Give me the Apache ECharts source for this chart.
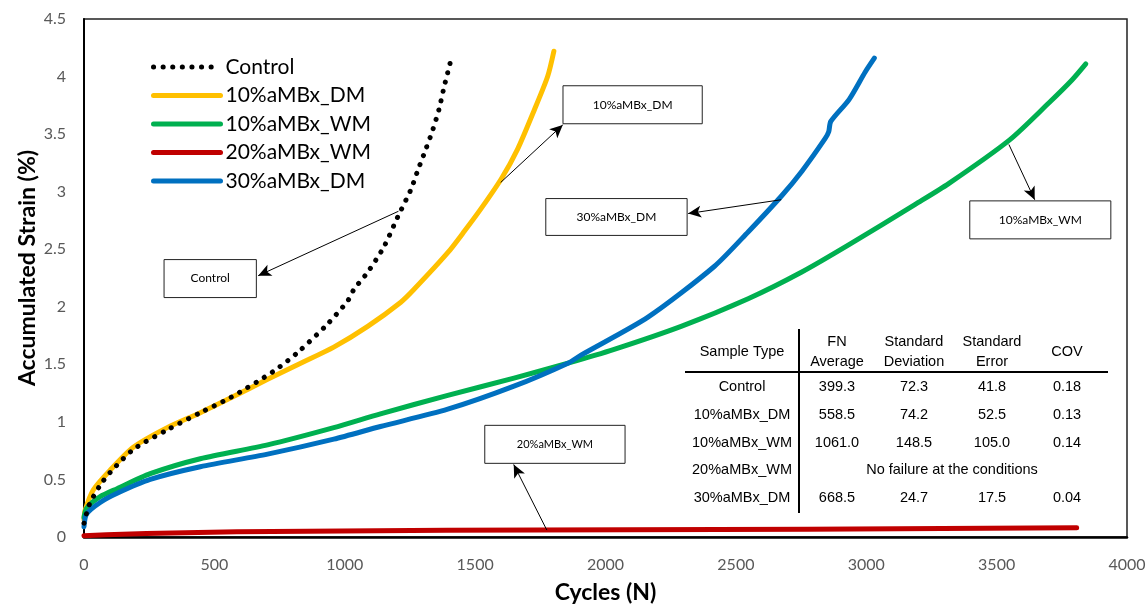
<!DOCTYPE html>
<html>
<head>
<meta charset="utf-8">
<script src="https://cdn.jsdelivr.net/npm/echarts@6/dist/echarts.min.js"></script>
<style>
  html, body { margin: 0; padding: 0; background: #fff; }
  #chart { width: 1146px; height: 607px; }
</style>
</head>
<body>
<div id="chart"></div>
<script>
// Accumulated strain (%) against load cycles N for each mix
const seriesNames = ['Control', '10%aMBx_DM', '10%aMBx_WM', '20%aMBx_WM', '30%aMBx_DM'];

const controlData = [
  [0, 0.12], [20, 0.28], [62, 0.45], [100, 0.56], [189, 0.76], [319, 0.93], [446, 1.08],
  [561, 1.21], [727, 1.44], [818, 1.60], [934, 1.85], [1011, 2.05], [1035, 2.15], [1088, 2.30],
  [1150, 2.52], [1203, 2.78], [1254, 3.02], [1281, 3.19], [1311, 3.37], [1338, 3.54],
  [1362, 3.72], [1380, 3.90], [1400, 4.08], [1411, 4.18]
];
const dm10Data = [
  [0, 0.15], [4, 0.23], [36, 0.41], [100, 0.58], [189, 0.78], [319, 0.95], [446, 1.08],
  [573, 1.22], [704, 1.37], [831, 1.51], [958, 1.65], [1088, 1.83], [1215, 2.04], [1265, 2.15],
  [1395, 2.47], [1460, 2.66], [1522, 2.85], [1600, 3.11], [1663, 3.37], [1727, 3.71],
  [1778, 4.00], [1802, 4.22]
];
const wm10Data = [
  [0, 0.17], [10, 0.25], [62, 0.35], [127, 0.42], [254, 0.55], [446, 0.68], [704, 0.80],
  [958, 0.95], [1137, 1.07], [1395, 1.23], [1649, 1.38], [1856, 1.51], [2033, 1.63],
  [2290, 1.83], [2547, 2.07], [2751, 2.30], [2934, 2.54], [3188, 2.89], [3316, 3.07],
  [3550, 3.45], [3700, 3.77], [3789, 3.97], [3842, 4.11]
];
const wm20Data = [
  [0, 0.01], [86, 0.02], [90, 0.03], [240, 0.03], [246, 0.045], [586, 0.045], [592, 0.055],
  [1390, 0.058], [1396, 0.065], [2776, 0.068], [2782, 0.078], [3807, 0.08]
];
const dm30Data = [
  [0, 0.09], [10, 0.20], [62, 0.30], [127, 0.38], [254, 0.50], [446, 0.61], [704, 0.72],
  [958, 0.85], [1137, 0.96], [1395, 1.11], [1649, 1.31], [1856, 1.51], [1906, 1.58],
  [2163, 1.91], [2417, 2.35], [2547, 2.65], [2674, 2.96], [2754, 3.18], [2842, 3.46],
  [2856, 3.52], [2864, 3.61], [2934, 3.80], [2996, 4.04], [3031, 4.16]
];

// Callout boxes: label, box corners [N, strain], arrow start and arrow tip
const callouts = [
  { label: 'Control',    box: [[307, 2.41], [661, 2.08]],   from: [1206, 2.83], to: [668, 2.27], size: 12 },
  { label: '10%aMBx_DM', box: [[1837, 3.92], [2371, 3.59]], from: [1598, 3.08], to: [1836, 3.58], size: 12 },
  { label: '30%aMBx_DM', box: [[1771, 2.94], [2313, 2.62]], from: [2674, 2.93], to: [2317, 2.81], size: 12 },
  { label: '10%aMBx_WM', box: [[3397, 2.92], [3938, 2.59]], from: [3547, 3.41], to: [3646, 2.93], size: 12 },
  { label: '20%aMBx_WM', box: [[1537, 0.97], [2075, 0.64]], from: [1775, 0.06], to: [1648, 0.63], size: 11 }
];

// Fatigue-number summary table
const tableHeader = [['Sample Type'], ['FN', 'Average'], ['Standard', 'Deviation'], ['Standard', 'Error'], ['COV']];
const tableSamples = ['Control', '10%aMBx_DM', '10%aMBx_WM', '20%aMBx_WM', '30%aMBx_DM'];
const tableFN   = ['399.3', '558.5', '1061.0', null, '668.5'];
const tableSD   = ['72.3', '74.2', '148.5', null, '24.7'];
const tableSE   = ['41.8', '52.5', '105.0', null, '17.5'];
const tableCOV  = ['0.18', '0.13', '0.14', null, '0.04'];
const tableNote = 'No failure at the conditions';

const colors = ['#000000', '#FFC000', '#00B050', '#C00000', '#0070C0'];
const dataSets = [controlData, dm10Data, wm10Data, wm20Data, dm30Data];

const chart = echarts.init(document.getElementById('chart'), null, { renderer: 'canvas' });

function calloutFor(name) {
  return callouts.filter(c => c.label === name);
}

const series = seriesNames.map((name, i) => {
  const cs = calloutFor(name);
  const s = {
    name: name,
    type: 'line',
    data: dataSets[i],
    showSymbol: false,
    symbol: 'none',
    smooth: name === '20%aMBx_WM' ? false : 0.25,
    z: i === 0 ? 6 : 3 + i * 0.1,
    lineStyle: {
      color: colors[i],
      width: 5,
      type: i === 0 ? [0.1, 9.5] : 'solid',
      cap: 'round',
      join: 'round'
    },
    itemStyle: { color: colors[i] },
    emphasis: { disabled: true }
  };
  if (cs.length) {
    s.markLine = {
      silent: true,
      symbol: ['none', 'arrow'],
      symbolSize: [9, 13],
      label: { show: false },
      lineStyle: { color: '#000', width: 1, type: 'solid', cap: 'butt' },
      emphasis: { disabled: true },
      data: cs.map(c => [{ coord: c.from }, { coord: c.to }])
    };
    s.markArea = {
      silent: true,
      itemStyle: { color: '#fff', borderColor: '#222', borderWidth: 1, opacity: 1 },
      label: {
        show: true, position: 'inside', color: '#000',
        fontFamily: 'Lato', fontSize: cs[0].size
      },
      emphasis: { disabled: true },
      data: cs.map(c => [{ name: c.label, coord: c.box[0] }, { coord: c.box[1] }])
    };
  }
  return s;
});

// Table drawn as graphic text on top of the plot
const tFont = '14.5px "Liberation Sans", Arial, sans-serif';
const colX = [742, 837, 914, 992, 1067];
const rowY = [387, 415, 443, 470, 498];
const tableEls = [];
function cell(text, x, y) {
  tableEls.push({ type: 'text', x: x, y: y, style: { text: text, font: tFont, fill: '#000', align: 'center', verticalAlign: 'middle' } });
}
tableHeader.forEach((h, j) => {
  if (h.length === 1) {
    cell(h[0], colX[j], 352);
  } else {
    cell(h[0], colX[j], 342);
    cell(h[1], colX[j], 362);
  }
});
const cols = [tableFN, tableSD, tableSE, tableCOV];
tableSamples.forEach((s, r) => {
  cell(s, colX[0], rowY[r]);
  if (tableFN[r] === null) {
    cell(tableNote, 952, rowY[r]);
  } else {
    cols.forEach((c, k) => cell(c[r], colX[k + 1], rowY[r]));
  }
});
tableEls.push({ type: 'line', shape: { x1: 799, y1: 329, x2: 799, y2: 513 }, style: { stroke: '#000', lineWidth: 2 } });
tableEls.push({ type: 'line', shape: { x1: 685, y1: 372, x2: 1108, y2: 372 }, style: { stroke: '#000', lineWidth: 2 } });

const option = {
  animation: false,
  backgroundColor: '#fff',
  textStyle: { fontFamily: 'Lato' },
  grid: {
    left: 84, right: 19, top: 19, bottom: 70,
    outerBoundsMode: 'none',
    show: true, borderColor: '#222', borderWidth: 1.5, backgroundColor: 'transparent'
  },
  legend: {
    orient: 'vertical',
    left: 146, top: 51,
    itemWidth: 67, itemHeight: 14, itemGap: 6.5,
    selectedMode: false,
    data: seriesNames,
    itemStyle: { opacity: 0 },
    lineStyle: { width: 5 },
    textStyle: { fontFamily: 'Lato', fontSize: 21, color: '#000', lineHeight: 22 }
  },
  xAxis: {
    type: 'value', min: 0, max: 4000, interval: 500,
    name: 'Cycles (N)', nameLocation: 'middle', nameGap: 44,
    nameTextStyle: { fontFamily: 'Lato', fontWeight: 'bold', fontSize: 23, color: '#000' },
    axisLine: { show: true, onZero: false, lineStyle: { color: '#000', width: 2.5 } },
    axisTick: { show: false },
    splitLine: { show: false },
    axisLabel: { fontFamily: 'Lato', fontSize: 16, color: '#595959', margin: 20, formatter: v => String(v) }
  },
  yAxis: {
    type: 'value', min: 0, max: 4.5, interval: 0.5,
    name: 'Accumulated Strain (%)', nameLocation: 'middle', nameGap: 45,
    nameMoveOverlap: false,
    nameTextStyle: { fontFamily: 'Lato', fontWeight: 'bold', fontSize: 23, color: '#000', padding: [0, 0, 0, 20] },
    axisLine: { show: true, lineStyle: { color: '#000', width: 2 } },
    axisTick: { show: false },
    splitLine: { show: false },
    axisLabel: { fontFamily: 'Lato', fontSize: 16, color: '#595959', margin: 18 }
  },
  series: series,
  graphic: [{ type: 'group', z: 100, children: tableEls }]
};

chart.setOption(option);
</script>
</body>
</html>
